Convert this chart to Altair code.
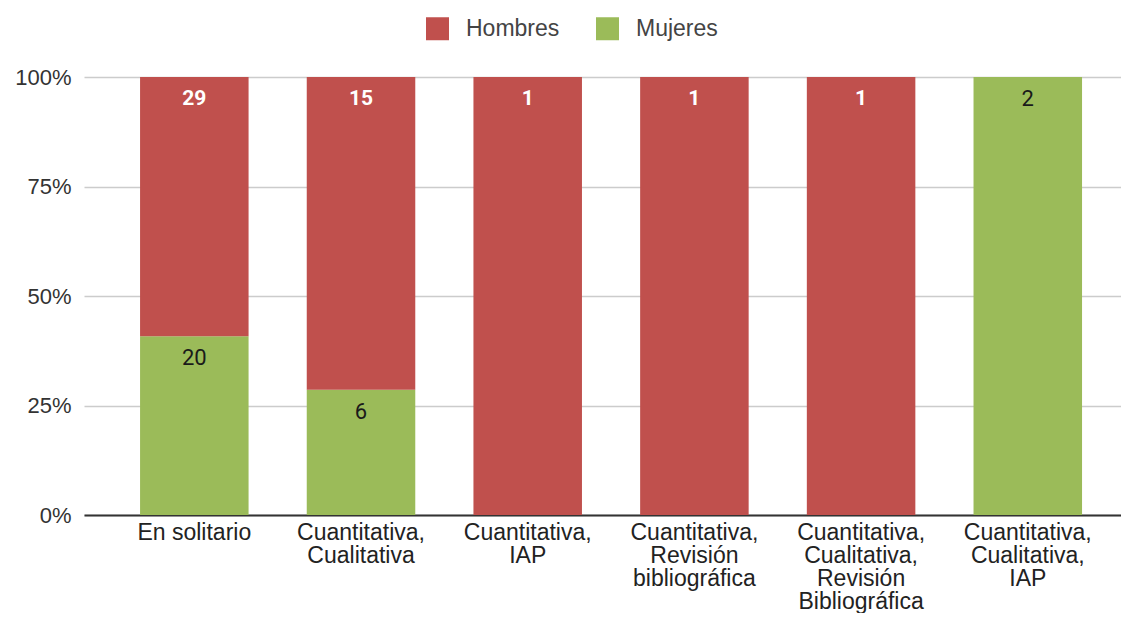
import json
import altair as alt
import pandas as pd

categories = [
    "En solitario",
    "Cuantitativa, Cualitativa",
    "Cuantitativa, IAP",
    "Cuantitativa, Revisión bibliográfica",
    "Cuantitativa, Cualitativa, Revisión Bibliográfica",
    "Cuantitativa, Cualitativa, IAP",
]
tick_lines = [
    ["En solitario"],
    ["Cuantitativa,", "Cualitativa"],
    ["Cuantitativa,", "IAP"],
    ["Cuantitativa,", "Revisión", "bibliográfica"],
    ["Cuantitativa,", "Cualitativa,", "Revisión", "Bibliográfica"],
    ["Cuantitativa,", "Cualitativa,", "IAP"],
]
hombres = [29, 15, 1, 1, 1, 0]
mujeres = [20, 6, 0, 0, 0, 2]
series = ["Hombres", "Mujeres"]
colors = ["#c0504d", "#9bbb59"]

rows = []
for c, h, m in zip(categories, hombres, mujeres):
    rows.append({"category": c, "sexo": "Mujeres", "count": m, "ord": 0})
    rows.append({"category": c, "sexo": "Hombres", "count": h, "ord": 1})
df = pd.DataFrame(rows)

label_expr = "{}[indexof({}, datum.value)]".format(
    json.dumps(tick_lines, ensure_ascii=False), json.dumps(categories, ensure_ascii=False)
)

base = alt.Chart(df).transform_filter("datum.count > 0").transform_stack(
    stack="count",
    groupby=["category"],
    as_=["y0", "y1"],
    offset="normalize",
    sort=[alt.SortField(field="ord", order="ascending")],
)

x_enc = alt.X(
    "category:N",
    sort=categories,
    title=None,
    scale=alt.Scale(paddingInner=0.349, paddingOuter=0.285, align=0.59),
    axis=alt.Axis(
        labelAngle=0,
        labelExpr=label_expr,
        labelFont="Liberation Sans",
        labelFontSize=23,
        labelColor="#222222",
        labelLineHeight=23,
        labelPadding=6,
        ticks=False,
        domainColor="#333333",
        domainWidth=2,
        grid=False,
        labelBaseline="top",
    ),
)

bars = base.mark_bar().encode(
    x=x_enc,
    y=alt.Y(
        "y1:Q",
        title=None,
        scale=alt.Scale(domain=[0, 1], nice=False),
        axis=alt.Axis(
            format=".0%",
            values=[0, 0.25, 0.5, 0.75, 1],
            labelFont="Liberation Sans",
            labelFontSize=22,
            labelColor="#333333",
            labelPadding=13,
            ticks=False,
            domain=False,
            gridColor="#cccccc",
            gridWidth=1.5,
        ),
    ),
    y2="y0:Q",
    color=alt.Color(
        "sexo:N",
        scale=alt.Scale(domain=series, range=colors),
        title=None,
        legend=alt.Legend(
            orient="none",
            legendX=342,
            legendY=-60,
            direction="horizontal",
            symbolType="square",
            symbolSize=529,
            symbolStrokeWidth=0,
            labelFont="Liberation Sans",
            labelFontSize=23,
            labelColor="#444444",
            labelOffset=17,
            columnPadding=36,
            padding=0,
        ),
    ),
)

text_h = base.transform_filter("datum.sexo == 'Hombres'").mark_text(
    font="Roboto", fontSize=21, fontWeight="bold", baseline="middle",
    align="center", dy=22, color="#ffffff"
).encode(
    x=alt.X("category:N", sort=categories),
    y=alt.Y("y1:Q"),
    text=alt.Text("count:Q"),
)

text_m = base.transform_filter("datum.sexo == 'Mujeres'").mark_text(
    font="Roboto", fontSize=22, fontWeight="normal", baseline="middle",
    align="center", dy=22, color="#1a1a1a"
).encode(
    x=alt.X("category:N", sort=categories),
    y=alt.Y("y1:Q"),
    text=alt.Text("count:Q"),
)

chart = (
    alt.layer(bars, text_h, text_m)
    .properties(
        width=1037,
        height=438,
        padding={"left": 76, "top": 69, "right": 0, "bottom": 98},
        autosize=alt.AutoSizeParams(type="none"),
    )
    .configure_view(stroke=None)
)

chart.save("out.html", embed_options={"renderer": "svg", "actions": False})
